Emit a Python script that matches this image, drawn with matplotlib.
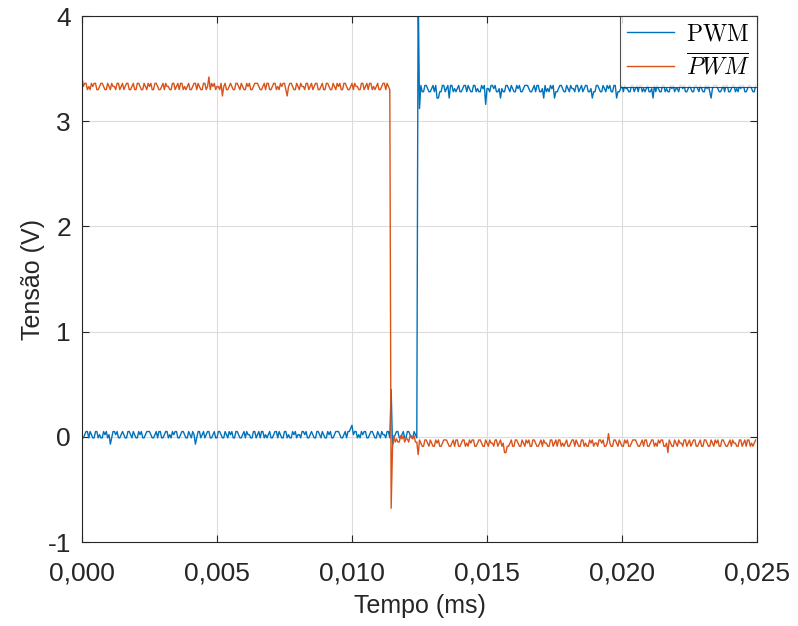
import numpy as np
import matplotlib
matplotlib.use("Agg")
import matplotlib.pyplot as plt
from matplotlib.ticker import FuncFormatter

# ---------------- data ----------------
dt_ms = 0.00005                      # sample spacing (ms)
pwm_fall_ms = 0.01145                # PWM-bar falls here
pwm_rise_ms = 0.01245                # PWM rises here

# PWM: low level before the rise, high level after
pwm_low_level = 0.02
pwm_high_level = 3.31
# PWM-bar: high before the fall, dead-time level, low level after PWM rises
pwmb_high_level = 3.33
pwmb_mid_level = -0.02
pwmb_low_level = -0.06
noise_step = 0.03                    # quantisation step of the scope (V)

# quantised noise codes (5 = level, each unit = noise_step)
pwm_codes = (
    "4456646544 6645446564 5246656445 6544665465 4465644566 "
    "6544564664 4566454656 6445665446 5465246645 6456644564 "
    "4665446546 5644665445 6465544664 5646645456 4456646544 "
    "6645446564 5546656445 6544665465 4465644566 6544564667 "
    "8566454656 6445665446 5465546645 6456644564 4665446546 "
    "5644665445 6462244664 5626645456 4456646544 6645446560 "
    "5546656445 2544665465 4465644566 6544564664 4526454656 "
    "2445665446 5465546645 6456644524 4665446546 5644662445 "
    "6465544664 5646645456 4452646544 6645446564 5546656445 "
    "6544665465 4465642566 6544564664 4566454656 6445665446"
).replace(" ", "")

pwmb_codes = (
    "8566454656 6445665446 5465546645 6456644564 4665446546 "
    "5644665445 6465544664 5646645456 4456646544 6645846564 "
    "5546256445 6544665465 4465644566 6544564664 4566454656 "
    "6425665446 5465546645 6456644564 4665446546 5644665445 "
    "6465544664 5646645456 4456646547 6645446564 5546656445 "
    "6544665465 4465644566 6544564664 4566454656 6445665446 "
    "5465546645 6452244564 4665446546 5644665445 6465544664 "
    "5646645456 4456646544 6645446564 5546656445 8544665465 "
    "4465644566 6544564664 4566454656 6445265446 5465546645 "
    "6456644564 4665446546 5644665445 6465544664 5646645456"
).replace(" ", "")

# switching transients (time ms, value V)
pwm_transients = [(0.01145, 0.45), (0.0115, -0.08), (0.01245, 4.3), (0.0125, 3.12)]
pwmb_transients = [(0.01145, -0.68), (0.0115, -0.10), (0.01245, -0.17)]

x_ticks = [0.000, 0.005, 0.010, 0.015, 0.020, 0.025]
y_ticks = [-1, 0, 1, 2, 3, 4]
label_pwm = r"$\mathrm{PWM}$"
label_pwmb = r"$\overline{PWM}$"

# ---------------- build series ----------------
def build(codes, segments, transients):
    n = len(codes)
    t = np.arange(n) * dt_ms
    base = np.full(n, segments[-1][1])
    for t_end, lvl in reversed(segments[:-1]):
        base[t < t_end - 1e-9] = lvl
    v = base + noise_step * (np.array([int(c) for c in codes]) - 5)
    for tt, val in transients:
        v[int(round(tt / dt_ms))] = val
    return t, v

t1, pwm = build(pwm_codes, [(pwm_rise_ms, pwm_low_level), (None, pwm_high_level)],
                pwm_transients)
t2, pwmb = build(pwmb_codes, [(pwm_fall_ms, pwmb_high_level),
                              (pwm_rise_ms, pwmb_mid_level),
                              (None, pwmb_low_level)], pwmb_transients)

# ---------------- plot ----------------
plt.rcParams["font.family"] = ["Liberation Sans", "DejaVu Sans"]
plt.rcParams["mathtext.fontset"] = "cm"

fig = plt.figure(figsize=(7.98, 6.26), dpi=100)
ax = fig.add_axes([82 / 798, 1 - 542 / 626, (757 - 82) / 798, (542 - 16) / 626])

ax.plot(t1, pwm, color="#0072BD", lw=1.0, label=label_pwm)
ax.plot(t2, pwmb, color="#D95319", lw=1.0, label=label_pwmb)

ax.set_xlim(0, 0.025)
ax.set_ylim(-1, 4)
ax.set_xticks(x_ticks)
ax.set_yticks(y_ticks)
ax.xaxis.set_major_formatter(FuncFormatter(lambda v, p: f"{v:.3f}".replace(".", ",")))
ax.yaxis.set_major_formatter(FuncFormatter(lambda v, p: f"{v:g}"))
ax.grid(True, color="#dcdcdc", lw=0.8)
ax.set_axisbelow(True)
ax.tick_params(direction="in", length=5, width=0.8, labelsize=19, colors="#262626",
               top=True, right=True)
ax.tick_params(axis="x", pad=14)
ax.tick_params(axis="y", pad=8)
for s in ax.spines.values():
    s.set_color("#262626")
    s.set_linewidth(0.8)

ax.set_xlabel("Tempo (ms)", fontsize=18, color="#262626", labelpad=6)
ax.set_ylabel("Tensão (V)", fontsize=18, color="#262626", labelpad=2)

leg = ax.legend(loc="upper right", fontsize=17, frameon=True, fancybox=False,
                edgecolor="#262626", borderaxespad=0, handlelength=2.0,
                handletextpad=0.5, borderpad=0.3, labelspacing=0.35)
leg.get_frame().set_linewidth(0.8)
for lh in leg.get_lines():
    lh.set_linewidth(1.0)

fig.savefig("out.png", dpi=100)
